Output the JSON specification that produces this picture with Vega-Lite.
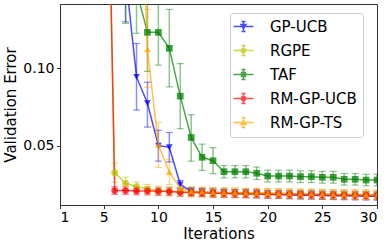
{
  "$schema": "https://vega.github.io/schema/vega-lite/v6.json",
  "width": 317,
  "height": 201,
  "autosize": {"type": "none"},
  "padding": {"left": 60, "top": 4, "right": 13, "bottom": 41},
  "config": {
    "font": "DejaVu Sans",
    "view": {"stroke": "#333333", "strokeWidth": 1},
    "axis": {"grid": false, "domainColor": "#333333", "tickColor": "#333333", "tickSize": 3.5, "labelFontSize": 14, "labelColor": "#000000", "titleFontSize": 15, "titleFontWeight": "normal", "titleColor": "#000000", "labelFont": "DejaVu Sans", "titleFont": "DejaVu Sans"},
    "legend": {"labelFont": "DejaVu Sans", "labelFontSize": 15, "labelColor": "#000000"}
  },
  "datasets": {
    "d": [
      {"s": "GP-UCB", "it": 7, "m": 0.16, "lo": 0.13, "hi": 0.19},
      {"s": "GP-UCB", "it": 8, "m": 0.0944, "lo": 0.073, "hi": 0.116},
      {"s": "GP-UCB", "it": 9, "m": 0.0774, "lo": 0.062, "hi": 0.091},
      {"s": "GP-UCB", "it": 10, "m": 0.05, "lo": 0.04, "hi": 0.06},
      {"s": "GP-UCB", "it": 11, "m": 0.049, "lo": 0.0395, "hi": 0.0585},
      {"s": "GP-UCB", "it": 12, "m": 0.025, "lo": 0.0225, "hi": 0.0275},
      {"s": "GP-UCB", "it": 13, "m": 0.0205, "lo": 0.018, "hi": 0.023},
      {"s": "GP-UCB", "it": 14, "m": 0.02, "lo": 0.0175, "hi": 0.0225},
      {"s": "GP-UCB", "it": 15, "m": 0.0195, "lo": 0.017, "hi": 0.022},
      {"s": "GP-UCB", "it": 16, "m": 0.0193, "lo": 0.0168, "hi": 0.0218},
      {"s": "GP-UCB", "it": 17, "m": 0.019, "lo": 0.0165, "hi": 0.0215},
      {"s": "GP-UCB", "it": 18, "m": 0.019, "lo": 0.0165, "hi": 0.0215},
      {"s": "GP-UCB", "it": 19, "m": 0.0188, "lo": 0.0163, "hi": 0.0213},
      {"s": "GP-UCB", "it": 20, "m": 0.0185, "lo": 0.016, "hi": 0.021},
      {"s": "GP-UCB", "it": 21, "m": 0.0184, "lo": 0.0159, "hi": 0.0209},
      {"s": "GP-UCB", "it": 22, "m": 0.0182, "lo": 0.0157, "hi": 0.0207},
      {"s": "GP-UCB", "it": 23, "m": 0.018, "lo": 0.0155, "hi": 0.0205},
      {"s": "GP-UCB", "it": 24, "m": 0.018, "lo": 0.0155, "hi": 0.0205},
      {"s": "GP-UCB", "it": 25, "m": 0.0178, "lo": 0.0153, "hi": 0.0203},
      {"s": "GP-UCB", "it": 26, "m": 0.0177, "lo": 0.0152, "hi": 0.0202},
      {"s": "GP-UCB", "it": 27, "m": 0.0176, "lo": 0.0151, "hi": 0.0201},
      {"s": "GP-UCB", "it": 28, "m": 0.0175, "lo": 0.015, "hi": 0.02},
      {"s": "GP-UCB", "it": 29, "m": 0.0174, "lo": 0.0149, "hi": 0.0199},
      {"s": "GP-UCB", "it": 30, "m": 0.0173, "lo": 0.0148, "hi": 0.0198},
      {"s": "RGPE", "it": 5, "m": 0.35, "lo": 0.3, "hi": 0.4},
      {"s": "RGPE", "it": 6, "m": 0.0326, "lo": 0.0264, "hi": 0.0388},
      {"s": "RGPE", "it": 7, "m": 0.0257, "lo": 0.0217, "hi": 0.0297},
      {"s": "RGPE", "it": 8, "m": 0.0235, "lo": 0.0205, "hi": 0.0265},
      {"s": "RGPE", "it": 9, "m": 0.022, "lo": 0.019, "hi": 0.025},
      {"s": "RGPE", "it": 10, "m": 0.021, "lo": 0.018, "hi": 0.024},
      {"s": "RGPE", "it": 11, "m": 0.0205, "lo": 0.0175, "hi": 0.0235},
      {"s": "RGPE", "it": 12, "m": 0.0202, "lo": 0.0172, "hi": 0.0232},
      {"s": "RGPE", "it": 13, "m": 0.02, "lo": 0.017, "hi": 0.023},
      {"s": "RGPE", "it": 14, "m": 0.0198, "lo": 0.0168, "hi": 0.0228},
      {"s": "RGPE", "it": 15, "m": 0.0197, "lo": 0.0167, "hi": 0.0227},
      {"s": "RGPE", "it": 16, "m": 0.0196, "lo": 0.0166, "hi": 0.0226},
      {"s": "RGPE", "it": 17, "m": 0.0195, "lo": 0.0165, "hi": 0.0225},
      {"s": "RGPE", "it": 18, "m": 0.0194, "lo": 0.0164, "hi": 0.0224},
      {"s": "RGPE", "it": 19, "m": 0.0193, "lo": 0.0163, "hi": 0.0223},
      {"s": "RGPE", "it": 20, "m": 0.0192, "lo": 0.0162, "hi": 0.0222},
      {"s": "RGPE", "it": 21, "m": 0.0191, "lo": 0.0161, "hi": 0.0221},
      {"s": "RGPE", "it": 22, "m": 0.019, "lo": 0.016, "hi": 0.022},
      {"s": "RGPE", "it": 23, "m": 0.0189, "lo": 0.0159, "hi": 0.0219},
      {"s": "RGPE", "it": 24, "m": 0.0188, "lo": 0.0158, "hi": 0.0218},
      {"s": "RGPE", "it": 25, "m": 0.0187, "lo": 0.0157, "hi": 0.0217},
      {"s": "RGPE", "it": 26, "m": 0.0186, "lo": 0.0156, "hi": 0.0216},
      {"s": "RGPE", "it": 27, "m": 0.0186, "lo": 0.0156, "hi": 0.0216},
      {"s": "RGPE", "it": 28, "m": 0.0185, "lo": 0.0155, "hi": 0.0215},
      {"s": "RGPE", "it": 29, "m": 0.0185, "lo": 0.0155, "hi": 0.0215},
      {"s": "RGPE", "it": 30, "m": 0.0184, "lo": 0.0154, "hi": 0.0214},
      {"s": "TAF", "it": 7, "m": 0.165, "lo": 0.129, "hi": 0.2},
      {"s": "TAF", "it": 8, "m": 0.15, "lo": 0.1226, "hi": 0.177},
      {"s": "TAF", "it": 9, "m": 0.1232, "lo": 0.098, "hi": 0.148},
      {"s": "TAF", "it": 10, "m": 0.1232, "lo": 0.102, "hi": 0.144},
      {"s": "TAF", "it": 11, "m": 0.1129, "lo": 0.088, "hi": 0.138},
      {"s": "TAF", "it": 12, "m": 0.082, "lo": 0.061, "hi": 0.103},
      {"s": "TAF", "it": 13, "m": 0.0553, "lo": 0.04, "hi": 0.07},
      {"s": "TAF", "it": 14, "m": 0.0425, "lo": 0.034, "hi": 0.051},
      {"s": "TAF", "it": 15, "m": 0.0403, "lo": 0.032, "hi": 0.0487},
      {"s": "TAF", "it": 16, "m": 0.0332, "lo": 0.0292, "hi": 0.0372},
      {"s": "TAF", "it": 17, "m": 0.0332, "lo": 0.0292, "hi": 0.0372},
      {"s": "TAF", "it": 18, "m": 0.0332, "lo": 0.0292, "hi": 0.0372},
      {"s": "TAF", "it": 19, "m": 0.0322, "lo": 0.0282, "hi": 0.0362},
      {"s": "TAF", "it": 20, "m": 0.0304, "lo": 0.0266, "hi": 0.0342},
      {"s": "TAF", "it": 21, "m": 0.0304, "lo": 0.0266, "hi": 0.0342},
      {"s": "TAF", "it": 22, "m": 0.0304, "lo": 0.0266, "hi": 0.0342},
      {"s": "TAF", "it": 23, "m": 0.03, "lo": 0.0262, "hi": 0.0338},
      {"s": "TAF", "it": 24, "m": 0.03, "lo": 0.0262, "hi": 0.0338},
      {"s": "TAF", "it": 25, "m": 0.0296, "lo": 0.0258, "hi": 0.0334},
      {"s": "TAF", "it": 26, "m": 0.0296, "lo": 0.0258, "hi": 0.0334},
      {"s": "TAF", "it": 27, "m": 0.0283, "lo": 0.0246, "hi": 0.032},
      {"s": "TAF", "it": 28, "m": 0.0283, "lo": 0.0246, "hi": 0.032},
      {"s": "TAF", "it": 29, "m": 0.0278, "lo": 0.0241, "hi": 0.0315},
      {"s": "TAF", "it": 30, "m": 0.0278, "lo": 0.0241, "hi": 0.0315},
      {"s": "RM-GP-UCB", "it": 5, "m": 0.4, "lo": 0.35, "hi": 0.45},
      {"s": "RM-GP-UCB", "it": 6, "m": 0.021, "lo": 0.0185, "hi": 0.0235},
      {"s": "RM-GP-UCB", "it": 7, "m": 0.021, "lo": 0.0185, "hi": 0.0235},
      {"s": "RM-GP-UCB", "it": 8, "m": 0.0208, "lo": 0.0183, "hi": 0.0233},
      {"s": "RM-GP-UCB", "it": 9, "m": 0.0207, "lo": 0.0182, "hi": 0.0232},
      {"s": "RM-GP-UCB", "it": 10, "m": 0.0205, "lo": 0.018, "hi": 0.023},
      {"s": "RM-GP-UCB", "it": 11, "m": 0.0204, "lo": 0.0179, "hi": 0.0229},
      {"s": "RM-GP-UCB", "it": 12, "m": 0.02, "lo": 0.0175, "hi": 0.0225},
      {"s": "RM-GP-UCB", "it": 13, "m": 0.0198, "lo": 0.0173, "hi": 0.0223},
      {"s": "RM-GP-UCB", "it": 14, "m": 0.0196, "lo": 0.0171, "hi": 0.0221},
      {"s": "RM-GP-UCB", "it": 15, "m": 0.0195, "lo": 0.017, "hi": 0.022},
      {"s": "RM-GP-UCB", "it": 16, "m": 0.0193, "lo": 0.0168, "hi": 0.0218},
      {"s": "RM-GP-UCB", "it": 17, "m": 0.0192, "lo": 0.0167, "hi": 0.0217},
      {"s": "RM-GP-UCB", "it": 18, "m": 0.019, "lo": 0.0165, "hi": 0.0215},
      {"s": "RM-GP-UCB", "it": 19, "m": 0.019, "lo": 0.0165, "hi": 0.0215},
      {"s": "RM-GP-UCB", "it": 20, "m": 0.0188, "lo": 0.0163, "hi": 0.0213},
      {"s": "RM-GP-UCB", "it": 21, "m": 0.0187, "lo": 0.0162, "hi": 0.0212},
      {"s": "RM-GP-UCB", "it": 22, "m": 0.0186, "lo": 0.0161, "hi": 0.0211},
      {"s": "RM-GP-UCB", "it": 23, "m": 0.0185, "lo": 0.016, "hi": 0.021},
      {"s": "RM-GP-UCB", "it": 24, "m": 0.0184, "lo": 0.0159, "hi": 0.0209},
      {"s": "RM-GP-UCB", "it": 25, "m": 0.0183, "lo": 0.0158, "hi": 0.0208},
      {"s": "RM-GP-UCB", "it": 26, "m": 0.0182, "lo": 0.0157, "hi": 0.0207},
      {"s": "RM-GP-UCB", "it": 27, "m": 0.0181, "lo": 0.0156, "hi": 0.0206},
      {"s": "RM-GP-UCB", "it": 28, "m": 0.018, "lo": 0.0155, "hi": 0.0205},
      {"s": "RM-GP-UCB", "it": 29, "m": 0.0179, "lo": 0.0154, "hi": 0.0204},
      {"s": "RM-GP-UCB", "it": 30, "m": 0.0178, "lo": 0.0153, "hi": 0.0203},
      {"s": "RM-GP-TS", "it": 8, "m": 0.3, "lo": 0.25, "hi": 0.35},
      {"s": "RM-GP-TS", "it": 9, "m": 0.1123, "lo": 0.0877, "hi": 0.138},
      {"s": "RM-GP-TS", "it": 10, "m": 0.0505, "lo": 0.036, "hi": 0.065},
      {"s": "RM-GP-TS", "it": 11, "m": 0.033, "lo": 0.025, "hi": 0.041},
      {"s": "RM-GP-TS", "it": 12, "m": 0.0225, "lo": 0.0195, "hi": 0.0255},
      {"s": "RM-GP-TS", "it": 13, "m": 0.0205, "lo": 0.0175, "hi": 0.0235},
      {"s": "RM-GP-TS", "it": 14, "m": 0.0203, "lo": 0.0173, "hi": 0.0233},
      {"s": "RM-GP-TS", "it": 15, "m": 0.02, "lo": 0.017, "hi": 0.023},
      {"s": "RM-GP-TS", "it": 16, "m": 0.0198, "lo": 0.0168, "hi": 0.0228},
      {"s": "RM-GP-TS", "it": 17, "m": 0.0197, "lo": 0.0167, "hi": 0.0227},
      {"s": "RM-GP-TS", "it": 18, "m": 0.0196, "lo": 0.0166, "hi": 0.0226},
      {"s": "RM-GP-TS", "it": 19, "m": 0.0195, "lo": 0.0165, "hi": 0.0225},
      {"s": "RM-GP-TS", "it": 20, "m": 0.0194, "lo": 0.0164, "hi": 0.0224},
      {"s": "RM-GP-TS", "it": 21, "m": 0.0193, "lo": 0.0163, "hi": 0.0223},
      {"s": "RM-GP-TS", "it": 22, "m": 0.0192, "lo": 0.0162, "hi": 0.0222},
      {"s": "RM-GP-TS", "it": 23, "m": 0.0191, "lo": 0.0161, "hi": 0.0221},
      {"s": "RM-GP-TS", "it": 24, "m": 0.019, "lo": 0.016, "hi": 0.022},
      {"s": "RM-GP-TS", "it": 25, "m": 0.0188, "lo": 0.0158, "hi": 0.0218},
      {"s": "RM-GP-TS", "it": 26, "m": 0.0187, "lo": 0.0157, "hi": 0.0217},
      {"s": "RM-GP-TS", "it": 27, "m": 0.0186, "lo": 0.0156, "hi": 0.0216},
      {"s": "RM-GP-TS", "it": 28, "m": 0.0185, "lo": 0.0155, "hi": 0.0215},
      {"s": "RM-GP-TS", "it": 29, "m": 0.0183, "lo": 0.0153, "hi": 0.0213},
      {"s": "RM-GP-TS", "it": 30, "m": 0.0182, "lo": 0.0152, "hi": 0.0212}
    ]
  },
  "data": {"name": "d"},
  "encoding": {
    "x": {"field": "it", "type": "quantitative", "title": "Iterations",
      "scale": {"domain": [1, 30], "nice": false, "zero": false},
      "axis": {"values": [1, 5, 10, 15, 20, 25, 30], "labelPadding": 2, "titlePadding": 2}},
    "y": {"field": "m", "type": "quantitative", "title": "Validation Error",
      "scale": {"domain": [0.0117, 0.1415], "nice": false, "zero": false},
      "axis": {"values": [0.05, 0.1], "format": ".2f", "labelPadding": 2.5, "titlePadding": 4}}
  },
  "layer": [
    {
      "mark": {"type": "rule", "clip": true, "strokeWidth": 1.5, "opacity": 0.45},
      "encoding": {
        "y": {"field": "lo", "type": "quantitative"},
        "y2": {"field": "hi"},
        "color": {"field": "s", "type": "nominal", "legend": null,
          "scale": {"domain": ["GP-UCB", "RGPE", "TAF", "RM-GP-UCB", "RM-GP-TS"], "range": ["#0000ff", "#bfbf00", "#008000", "#ff0000", "#ffa500"]}}
      }
    },
    {
      "mark": {"type": "tick", "orient": "horizontal", "clip": true, "size": 7, "thickness": 1.2, "opacity": 0.45},
      "encoding": {
        "y": {"field": "lo", "type": "quantitative"},
        "color": {"field": "s", "type": "nominal", "legend": null,
          "scale": {"domain": ["GP-UCB", "RGPE", "TAF", "RM-GP-UCB", "RM-GP-TS"], "range": ["#0000ff", "#bfbf00", "#008000", "#ff0000", "#ffa500"]}}
      }
    },
    {
      "mark": {"type": "tick", "orient": "horizontal", "clip": true, "size": 7, "thickness": 1.2, "opacity": 0.45},
      "encoding": {
        "y": {"field": "hi", "type": "quantitative"},
        "color": {"field": "s", "type": "nominal", "legend": null,
          "scale": {"domain": ["GP-UCB", "RGPE", "TAF", "RM-GP-UCB", "RM-GP-TS"], "range": ["#0000ff", "#bfbf00", "#008000", "#ff0000", "#ffa500"]}}
      }
    },
    {
      "mark": {"type": "line", "clip": true, "strokeWidth": 1.5, "opacity": 0.7},
      "encoding": {
        "color": {"field": "s", "type": "nominal", "legend": null,
          "scale": {"domain": ["GP-UCB", "RGPE", "TAF", "RM-GP-UCB", "RM-GP-TS"], "range": ["#0000ff", "#bfbf00", "#008000", "#ff0000", "#ffa500"]}}
      }
    },
    {
      "mark": {"type": "point", "clip": true, "filled": true, "opacity": 0.75, "size": 45},
      "encoding": {
        "color": {"field": "s", "type": "nominal", "legend": null,
          "scale": {"domain": ["GP-UCB", "RGPE", "TAF", "RM-GP-UCB", "RM-GP-TS"], "range": ["#0000ff", "#bfbf00", "#008000", "#ff0000", "#ffa500"]}},
        "shape": {"field": "s", "type": "nominal", "legend": null,
          "scale": {"domain": ["GP-UCB", "RGPE", "TAF", "RM-GP-UCB", "RM-GP-TS"], "range": ["triangle-down", "circle", "square", "circle", "triangle-up"]}}
      }
    },
    {
      "mark": {"type": "point", "clip": true, "filled": true, "opacity": 0, "size": 256, "strokeWidth": 1.5},
      "encoding": {
        "fill": {"field": "s", "type": "nominal",
          "scale": {"domain": ["GP-UCB", "RGPE", "TAF", "RM-GP-UCB", "RM-GP-TS"], "range": ["#0000ff", "#bfbf00", "#008000", "#ff0000", "#ffa500"]}},
        "stroke": {"field": "s", "type": "nominal",
          "scale": {"domain": ["GP-UCB", "RGPE", "TAF", "RM-GP-UCB", "RM-GP-TS"], "range": ["#0000ff", "#bfbf00", "#008000", "#ff0000", "#ffa500"]}},
        "shape": {"field": "s", "type": "nominal",
          "scale": {"domain": ["GP-UCB", "RGPE", "TAF", "RM-GP-UCB", "RM-GP-TS"], "range": [
            "M-2,0H2M0,-1V1M-0.4,-1H0.4M-0.4,1H0.4M-0.5,-0.4L0.5,-0.4L0,0.45Z",
            "M-2,0H2M0,-1V1M-0.4,-1H0.4M-0.4,1H0.4M-0.42,0A0.42,0.42,0,1,0,0.42,0A0.42,0.42,0,1,0,-0.42,0Z",
            "M-2,0H2M0,-1V1M-0.4,-1H0.4M-0.4,1H0.4M-0.4,-0.4H0.4V0.4H-0.4Z",
            "M-2,0H2M0,-1V1M-0.4,-1H0.4M-0.4,1H0.4M-0.42,0A0.42,0.42,0,1,0,0.42,0A0.42,0.42,0,1,0,-0.42,0Z",
            "M-2,0H2M0,-1V1M-0.4,-1H0.4M-0.4,1H0.4M-0.5,0.4L0.5,0.4L0,-0.45Z"]},
          "legend": {"title": null, "orient": "none", "legendX": 170, "legendY": 9,
            "padding": 6, "fillColor": "#ffffff", "strokeColor": "#cccccc", "cornerRadius": 3,
            "symbolOpacity": 0.7, "symbolStrokeWidth": 1.5, "labelOffset": 19, "rowPadding": 7}}
      }
    }
  ],
  "resolve": {"scale": {"shape": "independent", "fill": "independent", "stroke": "independent"}}
}
